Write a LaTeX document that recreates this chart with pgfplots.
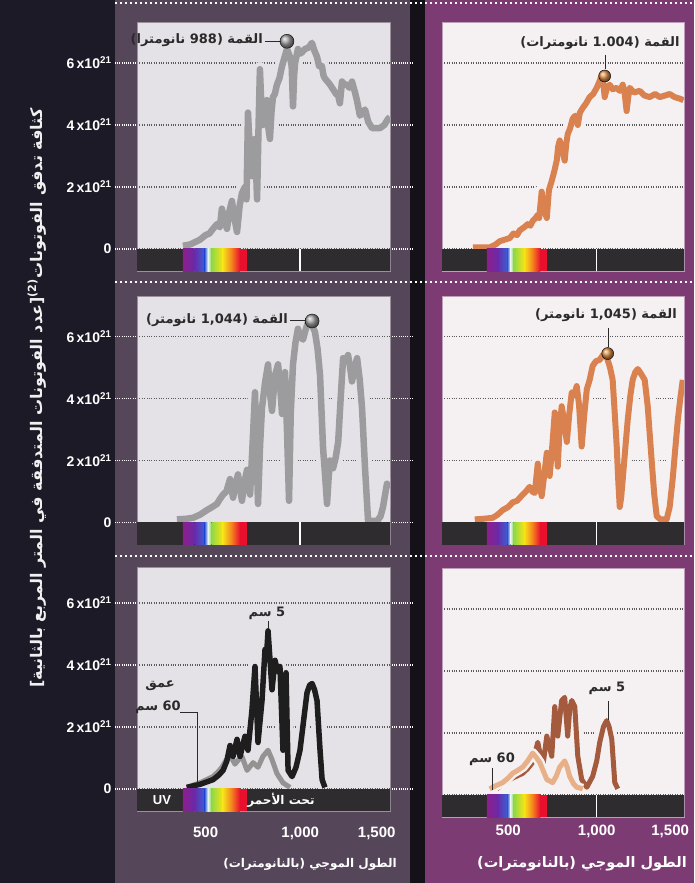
\documentclass[border=0pt]{standalone}
\usepackage{pgfplots}
\pgfplotsset{compat=1.18}
\usepackage{pgfplotstable}
\usepackage{fontspec}
\setmainfont{Liberation Sans}
\newfontfamily\arabicfont[Script=Arabic]{DejaVu Sans}
\TeXXeTstate=1
\definecolor{cStrip}{HTML}{1C1A26}
\definecolor{cLpanel}{HTML}{56465A}
\definecolor{cBlack}{HTML}{141218}
\definecolor{cRpanel}{HTML}{7D3B73}
\definecolor{cLbg}{HTML}{E4E2E6}
\definecolor{cRbg}{HTML}{F5F0F1}
\definecolor{cGrid}{HTML}{5A5A5A}
\definecolor{cBar}{HTML}{2E2C2E}
\definecolor{cGray}{HTML}{9C9B9E}
\definecolor{cOrange}{HTML}{D9824F}
\definecolor{cBrown}{HTML}{A45A3C}
\definecolor{cPeach}{HTML}{E8B088}
\definecolor{cDark}{HTML}{1E1E1E}
\definecolor{cText}{HTML}{2A2A2A}
\definecolor{sp1}{HTML}{8E1E8C}
\definecolor{sp2}{HTML}{6A2AA8}
\definecolor{sp3}{HTML}{3A60D8}
\definecolor{sp4}{HTML}{E8F4F0}
\definecolor{sp5}{HTML}{8CD848}
\definecolor{sp6}{HTML}{F6E418}
\definecolor{sp7}{HTML}{F47A20}
\definecolor{sp8}{HTML}{E8102C}

\newcommand{\specbar}{%
  \fill[cBar] (axis cs:0,-0.72) rectangle (axis cs:1600,0);
  \fill[left color=sp1,right color=sp2] (axis cs:380,-0.72) rectangle (axis cs:441,0);
  \fill[left color=sp2,right color=sp3] (axis cs:440,-0.72) rectangle (axis cs:496,0);
  \fill[left color=sp3,right color=sp4] (axis cs:495,-0.72) rectangle (axis cs:513,0);
  \fill[left color=sp4,right color=sp5] (axis cs:512,-0.72) rectangle (axis cs:531,0);
  \fill[left color=sp5,right color=sp6] (axis cs:530,-0.72) rectangle (axis cs:591,0);
  \fill[left color=sp6,right color=sp7] (axis cs:590,-0.72) rectangle (axis cs:641,0);
  \fill[left color=sp7,right color=sp8] (axis cs:640,-0.72) rectangle (axis cs:681,0);
  \fill[sp8] (axis cs:680,-0.72) rectangle (axis cs:720,0);
}
\newcommand{\tickthousand}{\draw[white, line width=1.5pt] (axis cs:1000,-0.72) -- (axis cs:1000,0);}

\pgfplotstableread{
x y
380 0.1
420 0.15
470 0.3
500 0.45
520 0.5
539 0.65
560 0.8
575 0.7
586 1.3
600 0.9
613 0.65
625 1.2
639 1.55
652 1.0
666 0.55
680 1.4
692 1.8
708 2.0
716 1.6
724 4.4
735 3.0
745 2.35
752 3.2
761 3.55
772 1.6
780 4.0
787 5.8
795 4.6
803 4.0
812 4.6
824 4.8
832 3.9
840 3.55
848 4.4
856 4.9
866 5.0
877 5.3
890 5.5
904 5.9
918 6.2
930 6.45
946 6.2
955 5.9
962 4.6
968 5.6
973 6.0
988 6.45
1000 6.3
1010 6.35
1025 6.45
1045 6.5
1062 6.65
1075 6.4
1089 6.2
1100 5.9
1115 5.9
1123 5.6
1131 5.5
1145 5.4
1158 5.3
1174 5.15
1190 5.0
1201 4.95
1210 4.7
1221 5.4
1235 5.3
1248 5.3
1260 5.2
1274 5.4
1290 5.05
1300 4.8
1316 4.3
1330 4.4
1343 4.5
1360 4.1
1380 3.9
1400 3.9
1422 3.9
1445 4.0
1465 4.2
1475 4.25
}\tA

\pgfplotstableread{
x y
300 0.05
395 0.05
430 0.15
452 0.25
480 0.3
508 0.35
530 0.5
550 0.45
565 0.6
590 0.7
610 0.8
625 0.75
638 0.9
655 1.0
667 1.1
675 1.0
689 1.85
700 1.3
718 1.0
730 1.9
746 2.2
760 2.5
774 2.85
782 3.3
791 3.5
805 3.2
819 2.85
828 3.4
836 3.7
850 3.9
864 4.2
878 4.3
893 4.0
905 4.4
921 4.55
940 4.7
960 4.9
980 5.0
1000 5.2
1015 5.4
1028 5.6
1038 5.3
1045 4.9
1058 5.2
1073 5.3
1090 5.15
1113 5.2
1130 5.1
1147 5.3
1158 5.0
1169 4.45
1178 4.9
1186 5.2
1210 5.05
1243 5.1
1270 4.95
1299 4.9
1330 5.0
1356 4.9
1385 4.95
1412 5.0
1440 4.9
1469 4.85
1490 4.8
}\tB

\pgfplotstableread{
x y
348 0.1
400 0.12
433 0.15
470 0.25
507 0.4
535 0.5
560 0.6
575 0.75
592 0.9
610 1.0
629 1.4
645 0.8
658 1.2
671 1.55
692 0.7
705 1.3
719 1.7
735 0.9
748 2.5
761 4.2
777 0.6
788 2.5
798 3.7
814 4.5
830 5.1
840 4.2
851 3.6
867 4.75
883 5.1
894 4.4
904 3.5
912 4.2
920 4.85
930 3.0
941 0.7
950 3.5
962 5.1
975 5.8
988 6.25
1000 6.0
1015 5.9
1028 6.2
1041 6.45
1060 6.4
1078 6.15
1092 5.6
1105 4.75
1121 2.4
1132 1.5
1142 0.6
1150 1.4
1158 2.0
1174 1.75
1188 2.1
1201 2.6
1214 4.0
1227 5.3
1240 5.2
1253 5.4
1264 5.0
1274 4.55
1288 5.0
1301 5.3
1315 4.6
1327 3.7
1343 1.75
1359 0.05
1380 0.05
1407 0.05
1425 0.2
1438 0.5
1459 1.25
1470 1.1
}\tC

\pgfplotstableread{
x y
311 0.1
360 0.12
412 0.15
440 0.25
469 0.4
500 0.5
525 0.65
550 0.7
582 0.9
600 1.0
621 1.15
636 1.0
650 0.95
667 1.9
678 1.2
689 0.85
705 1.6
718 2.25
734 1.5
748 2.4
763 3.55
780 1.8
790 3.0
802 3.75
815 3.3
831 2.6
845 3.5
859 4.2
872 4.1
887 4.4
900 3.8
915 2.45
930 3.5
944 4.3
960 4.6
977 5.05
995 5.2
1017 5.25
1035 5.4
1056 5.35
1075 5.0
1090 4.6
1102 3.5
1113 2.45
1122 1.3
1130 0.5
1138 0.8
1147 1.4
1160 2.3
1175 3.3
1190 4.1
1203 4.6
1218 4.85
1232 4.95
1250 4.8
1271 4.6
1288 3.75
1300 2.8
1311 1.95
1325 0.9
1339 0.2
1360 0.1
1395 0.1
1412 0.5
1429 1.4
1444 2.4
1458 3.3
1472 4.0
1486 4.6
}\tD

\pgfplotstableread{
x y
400 0.05
470 0.15
539 0.3
570 0.45
592 0.6
612 0.9
629 1.4
645 1.05
666 1.6
682 1.05
708 1.7
724 1.25
745 2.55
761 3.95
777 1.5
798 2.85
814 4.5
822 4.3
830 5.1
840 4.2
851 3.2
867 4.15
880 3.8
893 3.95
909 1.25
925 3.75
936 0.6
957 0.4
978 0.7
999 1.25
1018 2.2
1036 3.1
1050 3.35
1063 3.4
1076 3.2
1089 2.85
1105 1.25
1116 0.3
1131 0.05
}\tE

\pgfplotstableread{
x y
400 0.05
470 0.2
539 0.4
565 0.55
586 0.7
610 0.95
629 1.1
655 0.8
675 0.95
692 1.05
719 0.6
751 0.85
777 0.7
803 1.05
830 1.25
851 0.95
877 0.5
909 0.2
946 0.05
}\tF

\pgfplotstableread{
x y
435 0.2
470 0.35
508 0.5
545 0.6
582 0.7
610 0.85
638 1.05
667 1.7
695 0.9
718 1.9
746 1.25
763 2.85
780 1.9
802 3.05
819 3.15
836 1.9
848 2.8
859 3.05
876 2.85
893 1.25
915 0.5
944 0.25
977 0.6
1000 1.1
1017 1.7
1038 2.2
1056 2.4
1070 2.2
1085 1.8
1102 0.4
1119 0.2
}\tG

\pgfplotstableread{
x y
395 0.2
430 0.3
469 0.4
500 0.55
525 0.7
555 0.8
582 0.9
610 1.1
638 1.35
660 1.2
678 1.05
700 0.75
718 0.5
751 0.4
771 0.6
791 0.9
819 1.1
833 0.9
847 0.6
870 0.35
887 0.25
921 0.2
}\tH

\newcommand{\lblthousand}{1,000}
\newcommand{\lblfifteen}{1,500}

\pgfplotsset{
  base/.style={
    scale only axis, anchor=south west,
    ymin=-0.72, ymax=7.3,
    ytick={0,2,4,6},
    ymajorgrids,
    grid style={cGrid, dotted, line width=1.3pt},
    xtick=\empty,
    axis line style={draw=#1, line width=0.8pt},
    clip=true,
  },
  leftcol/.style={base=cLpanel!60!white, width=253pt, xmin=137, xmax=1475,
    axis background/.style={fill=cLbg},
    yticklabels={0,{2\,x10\textsuperscript{21}},{4\,x10\textsuperscript{21}},{6\,x10\textsuperscript{21}}},
    ytick style={white, dotted, line width=1.4pt},
    tick align=outside, major tick length=22pt,
    yticklabel style={font=\bfseries\fontsize{14}{14}\selectfont, text=white},
  },
  rightcol/.style={base=cRpanel!50!white, width=242pt, xmin=126, xmax=1493,
    axis background/.style={fill=cRbg},
    yticklabels={,,,}, ytick style={draw=none},
  },
  bottomx/.style n args={3}{
    xtick={500,1000}, xticklabels={500,\lblthousand},
    extra x ticks={#2}, extra x tick labels={\lblfifteen},
    xtick style={draw=none},
    xticklabel style={text=white, font=\bfseries\fontsize{15}{15}\selectfont, yshift=#1},
    extra x tick style={xticklabel style={anchor=north east, xshift=#3}},
  },
}

\begin{document}
\begin{tikzpicture}[x=1pt,y=1pt]
% backgrounds
\fill[cStrip] (0,0) rectangle (115,883);
\fill[cLpanel] (115,0) rectangle (410,883);
\fill[cBlack] (410,0) rectangle (425,883);
\fill[cRpanel] (425,0) rectangle (694,883);
\foreach \yy in {880,601,327}{
  \draw[white, line width=2pt, dash pattern=on 2pt off 3pt] (115,\yy) -- (694,\yy);
}

% ---------- Row 1 left
\begin{axis}[leftcol, at={(137pt,611.7pt)}, height=248.6pt]
\addplot[cLbg, line width=14pt, line join=round] table {\tA};
\addplot[cGray, line width=6.5pt, line join=round] table {\tA};
\specbar \tickthousand
\addplot[only marks, mark=ball, mark size=7pt, ball color=gray!75] coordinates {(930,6.7)};
\end{axis}
% ---------- Row 1 right
\begin{axis}[rightcol, at={(442pt,611.7pt)}, height=248.6pt]
\addplot[cRbg, line width=14pt, line join=round] table {\tB};
\addplot[cOrange, line width=6pt, line join=round] table {\tB};
\specbar \tickthousand
\addplot[only marks, mark=ball, mark size=6pt, ball color=cOrange!90!yellow] coordinates {(1045,5.58)};
\end{axis}
% ---------- Row 2 left
\begin{axis}[leftcol, at={(137pt,338.2pt)}, height=248.6pt]
\addplot[cLbg, line width=14pt, line join=round] table {\tC};
\addplot[cGray, line width=6.5pt, line join=round] table {\tC};
\specbar \tickthousand
\addplot[only marks, mark=ball, mark size=7pt, ball color=gray!75] coordinates {(1063,6.5)};
\end{axis}
% ---------- Row 2 right
\begin{axis}[rightcol, at={(442pt,338.2pt)}, height=248.6pt]
\addplot[cRbg, line width=14pt, line join=round] table {\tD};
\addplot[cOrange, line width=6pt, line join=round] table {\tD};
\specbar \tickthousand
\addplot[only marks, mark=ball, mark size=6pt, ball color=cOrange!90!yellow] coordinates {(1062,5.45)};
\end{axis}
% ---------- Row 3 left
\begin{axis}[leftcol, bottomx={10pt}{1470}{10pt}, at={(137pt,71.7pt)}, height=244pt, ymax=7.15]
\addplot[cLbg, line width=13pt, line join=round] table {\tE};
\addplot[cLbg, line width=10pt, line join=round] table {\tF};
\addplot[gray!85, line width=5pt, line join=round] table {\tF};
\addplot[cDark, line width=5.5pt, line join=round] table {\tE};
\specbar
\end{axis}
% ---------- Row 3 right
\begin{axis}[rightcol, bottomx={-4pt}{1490}{9pt}, at={(442pt,65.7pt)}, height=248.6pt]
\addplot[cRbg, line width=12pt, line join=round] table {\tG};
\addplot[cBrown, line width=5pt, line join=round] table {\tG};
\addplot[cRbg, line width=10pt, line join=round] table {\tH};
\addplot[cPeach, line width=5pt, line join=round] table {\tH};
\specbar \tickthousand
\end{axis}

% ---------- annotations
\tikzset{ann/.style={text=cText, font=\arabicfont\bfseries\fontsize{13}{15}\selectfont, inner sep=0pt}}
\node[ann, anchor=east] at (263,843) {\beginR القمة (988 نانومترا)\endR};
\draw[cText, line width=0.8pt] (265,842) -- (281,842);
\node[ann] at (600,840) {\beginR القمة (1.004 نانومترات)\endR};
\draw[cText, line width=0.8pt] (605,828) -- (605,814);
\node[ann, anchor=east] at (288,563) {\beginR القمة (1,044 نانومتر)\endR};
\draw[cText, line width=0.8pt] (290,563) -- (306,563);
\node[ann] at (606,568) {\beginR القمة (1,045 نانومتر)\endR};
\draw[cText, line width=0.8pt] (608,555) -- (608,536);

% row 3 left annotations
\node[ann] at (267,270) {\beginR 5 سم\endR};
\draw[cText, line width=0.8pt] (268,262) -- (268,254);
\node[ann] at (160,197) {\beginR عمق\endR};
\node[ann] at (158,176) {\beginR 60 سم\endR};
\draw[cText, line width=0.8pt] (180,171) -- (197,171) -- (197,100);
\node[text=white, font=\bfseries\fontsize{13}{13}\selectfont] at (162,83) {UV};
\node[text=white, font=\arabicfont\bfseries\fontsize{12}{14}\selectfont] at (281,83) {\beginR تحت الأحمر\endR};
% row 3 right annotations
\node[ann] at (492,124) {\beginR 60 سم\endR};
\draw[cText, line width=0.8pt] (492,115) -- (492,93);
\node[ann] at (607,195) {\beginR 5 سم\endR};
\draw[cText, line width=0.8pt] (608,182) -- (608,163);

% axis titles
\node[rotate=90, text=white!88!gray, font=\arabicfont\bfseries\fontsize{16}{18}\selectfont] at (37,485)
  {\beginR كثافة تدفق الفوتونات\textsuperscript{(2)}[عدد الفوتونات المتدفقة في المتر المربع بالثانية]\endR};
\node[text=white, font=\arabicfont\bfseries\fontsize{12}{14}\selectfont] at (310,19) {\beginR الطول الموجي (بالنانومترات)\endR};
\node[text=white, font=\arabicfont\bfseries\fontsize{14.5}{16}\selectfont] at (582,19) {\beginR الطول الموجي (بالنانومترات)\endR};

\pgfresetboundingbox
\path (0,0) rectangle (694,883);
\end{tikzpicture}
\end{document}
